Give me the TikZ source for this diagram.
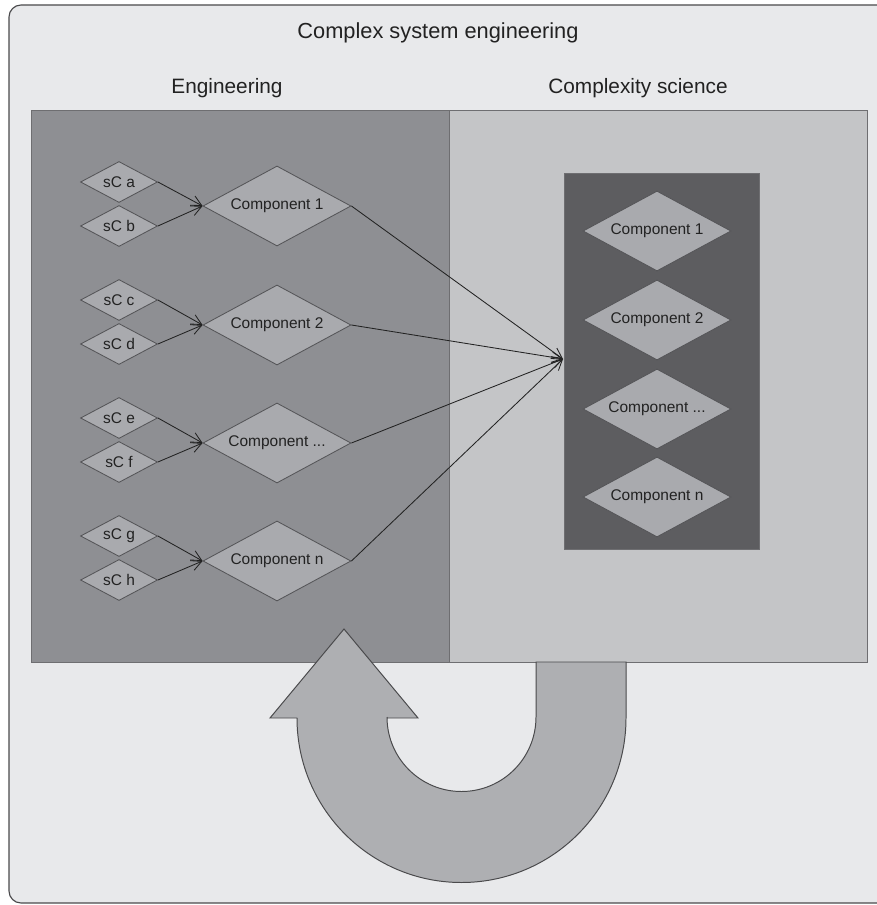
\documentclass[tikz,border=0pt]{standalone}
\usepackage{fontspec}
\setmainfont{Liberation Sans}
\usepackage{xcolor}
\usepackage{tikz}
\usetikzlibrary{positioning,shapes.geometric,arrows.meta}

\definecolor{bgGray}{HTML}{E8E9EB}
\definecolor{engGray}{HTML}{8E8F93}
\definecolor{cplxGray}{HTML}{C4C5C7}
\definecolor{coreGray}{HTML}{5D5D60}
\definecolor{diaFill}{HTML}{A9AAAE}
\definecolor{diaLine}{HTML}{555558}
\definecolor{turnFill}{HTML}{AEAFB2}
\definecolor{frameLine}{HTML}{4A4A4C}
\definecolor{panelLine}{HTML}{6E6E71}
\definecolor{inkDark}{HTML}{222222}

\begin{document}
\begin{tikzpicture}
            [x=0.025cm,y=-0.025cm,
             comp/.style={diamond, aspect=2, draw=diaLine, fill=diaFill, line width=0.6pt, inner sep=0pt,
                          minimum width=3.7cm, minimum height=2cm, text=inkDark, font=\fontsize{11}{13}\selectfont},
             sub/.style={comp, minimum width=1.925cm, minimum height=1.025cm},
             panel/.style={draw=panelLine, line width=0.7pt},
             head/.style={text=inkDark, font=\fontsize{14.8}{17}\selectfont},
             link/.style={draw=inkDark, line width=0.6pt, -{Straight Barb[length=2.6mm,width=2.6mm]}}]
            \useasboundingbox (0,0) rectangle (876,905);
            \draw[draw=frameLine, fill=bgGray, line width=0.8pt, rounded corners=3mm] (9,5) rectangle (900,903);

            \node[head, font=\fontsize{15.5}{18}\selectfont] (title) at (438,33) {Complex system engineering};
            \node[head] (engHead) at (227,88) {Engineering};
            \node[head] (cplxHead) at (638,88) {Complexity science};

            \draw[panel, fill=engGray] (31,110) rectangle (449,662);
            \draw[panel, fill=cplxGray] (449,110) rectangle (867,662);
            \draw[panel, fill=coreGray] (564,173) rectangle (759,549);

            \node[sub] (sa) at (119,182) {sC a};
            \node[sub] (sb) at (119,226) {sC b};
            \node[sub] (sc) at (119,300) {sC c};
            \node[sub] (sd) at (119,344) {sC d};
            \node[sub] (se) at (119,418) {sC e};
            \node[sub] (sf) at (119,462) {sC f};
            \node[sub] (sg) at (119,536) {sC g};
            \node[sub] (sh) at (119,580) {sC h};

            \node[comp] (e1) at (277,206) {Component 1};
            \node[comp] (e2) at (277,325) {Component 2};
            \node[comp] (e3) at (277,443) {Component ...};
            \node[comp] (e4) at (277,561) {Component n};

            \node[comp] (c1) at (657,231) {Component 1};
            \node[comp] (c2) at (657,320) {Component 2};
            \node[comp] (c3) at (657,409) {Component ...};
            \node[comp] (c4) at (657,497) {Component n};

            \coordinate (hub) at (563,359);

            \foreach \from/\to in {sa/e1, sb/e1, sc/e2, sd/e2, se/e3, sf/e3, sg/e4, sh/e4}
            \draw[link] (\from.east) -- (\to.west);
            \foreach \from in {e1, e2, e3, e4}
            \draw[link] (\from.east) -- (hub);

            % turn-back arrow
            \draw[draw=frameLine, fill=turnFill, line width=0.7pt]
              (536,662) -- (536,717) arc[start angle=0, end angle=180, radius=74.5]
              -- (387,718) -- (418,718) -- (344,629) -- (270,718) -- (297,718)
              arc[start angle=180, end angle=0, radius=164.5] -- (626,662) -- cycle;
          \end{tikzpicture}
\end{document}
